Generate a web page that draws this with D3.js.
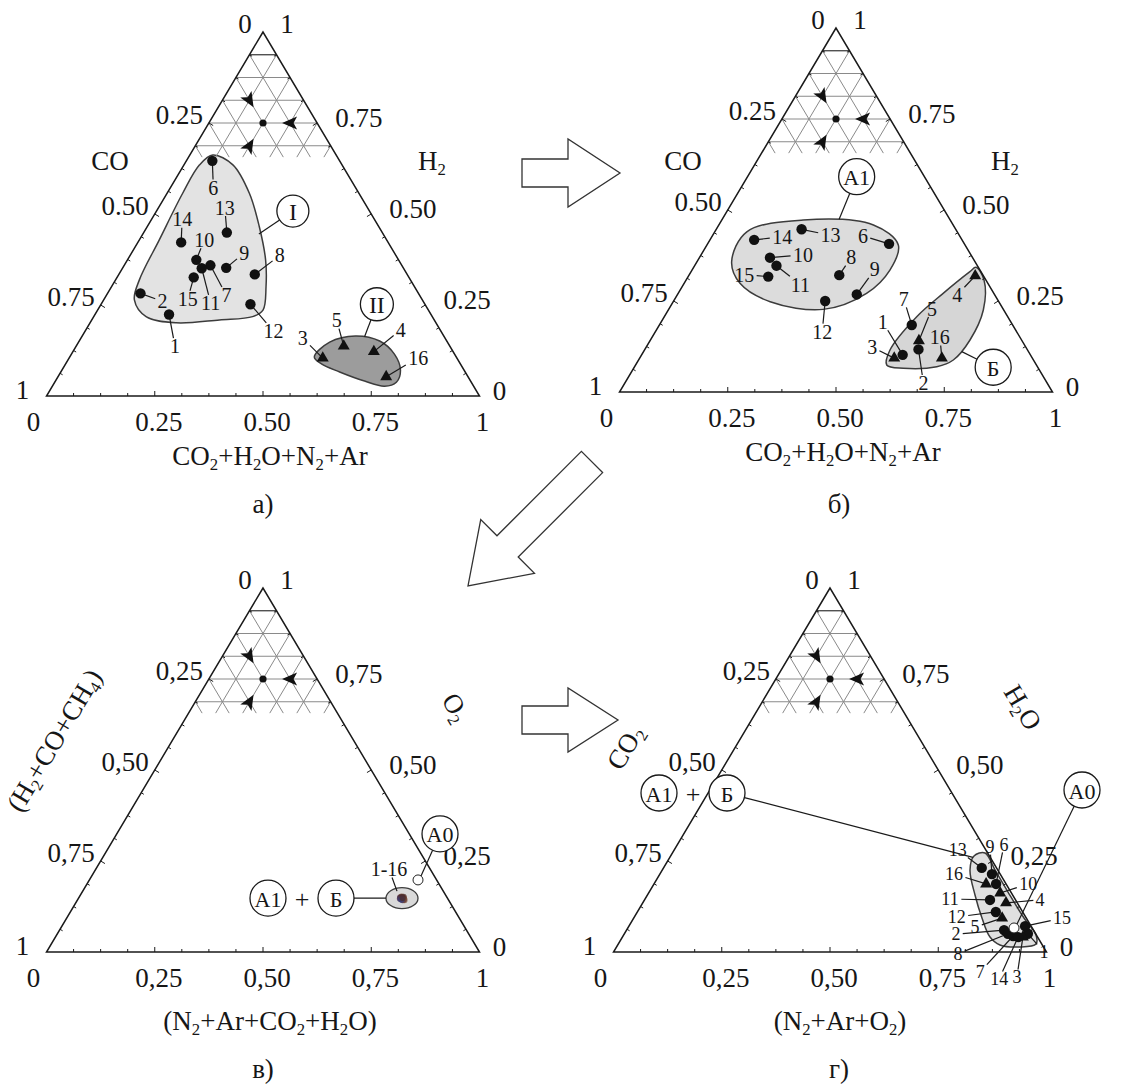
<!DOCTYPE html>
<html>
<head>
<meta charset="utf-8">
<script src="https://cdn.jsdelivr.net/npm/d3@7"></script>
<style>
  body { margin: 0; background: #fff; }
  svg text { font-family: "Liberation Serif", "Times New Roman", serif; fill: #161616; }
</style>
</head>
<body>
<svg id="chart" width="1131" height="1089"></svg>
<script>
// ---------- data: compositions as [left, top, right] fractions ----------
// Panel а: [CO, H2, CO2+H2O+N2+Ar]
const idsA = [1,2,3,4,5,6,7,8,9,10,11,12,13,14,15,16];
const compA = [
  [0.605,0.224,0.171],[0.642,0.282,0.076],[0.310,0.104,0.586],[0.183,0.122,0.695],
  [0.245,0.137,0.618],[0.294,0.646,0.060],[0.442,0.359,0.199],[0.352,0.334,0.314],
  [0.409,0.352,0.239],[0.467,0.374,0.159],[0.466,0.351,0.183],[0.403,0.252,0.345],
  [0.359,0.449,0.192],[0.478,0.422,0.100],[0.497,0.326,0.177],[0.189,0.053,0.758]
];
const markA = ['dot','dot','tri','tri','tri','dot','dot','dot','dot','dot','dot','dot','dot','dot','dot','tri'];

// Panel б: [CO, H2, CO2+H2O+N2+Ar]
const idsB = [1,2,3,4,5,6,7,8,9,10,11,12,13,14,15,16];
const compB = [
  [0.295,0.102,0.603],[0.251,0.117,0.632],[0.319,0.093,0.588],[0.019,0.319,0.662],
  [0.238,0.141,0.621],[0.174,0.407,0.419],[0.233,0.184,0.583],[0.332,0.321,0.347],
  [0.318,0.268,0.414],[0.468,0.369,0.163],[0.464,0.347,0.189],[0.400,0.250,0.350],
  [0.356,0.447,0.197],[0.480,0.418,0.102],[0.498,0.317,0.185],[0.209,0.093,0.698]
];
const markB = ['dot','dot','tri','tri','tri','dot','dot','dot','dot','dot','dot','dot','dot','dot','dot','tri'];

// Panel в: [H2+CO+CH4, O2, N2+Ar+CO2+H2O]
const compV = [
  [0.108,0.150,0.742],[0.102,0.146,0.752],[0.106,0.143,0.751],[0.100,0.151,0.749],
  [0.110,0.147,0.743],[0.104,0.152,0.744],[0.103,0.145,0.752],[0.107,0.149,0.744],
  [0.105,0.144,0.751],[0.101,0.148,0.751],[0.109,0.146,0.745],[0.104,0.150,0.746],
  [0.106,0.147,0.747],[0.102,0.143,0.755],[0.108,0.144,0.748],[0.103,0.149,0.748]
];
const airV = [0.043, 0.198, 0.759];

// Panel г: [CO2, H2O, N2+Ar+O2]
const idsG = [1,2,3,4,5,6,7,8,9,10,11,12,13,14,15,16];
const compG = [
  [0.018,0.050,0.932],[0.068,0.060,0.872],[0.034,0.041,0.925],[0.026,0.135,0.839],
  [0.056,0.093,0.851],[0.023,0.187,0.790],[0.055,0.044,0.901],[0.064,0.050,0.886],
  [0.019,0.214,0.767],[0.026,0.162,0.812],[0.059,0.143,0.798],[0.062,0.110,0.828],
  [0.034,0.231,0.735],[0.045,0.041,0.914],[0.014,0.071,0.915],[0.046,0.187,0.767]
];
const markG = ['dot','dot','tri','tri','tri','dot','dot','dot','dot','tri','dot','dot','dot','dot','dot','tri'];
const airG = [0.042, 0.066, 0.892];

// Region outlines as [top, right] fractions
const regionI  = [[0.662,0.053],[0.635,0.113],[0.557,0.190],[0.465,0.259],[0.374,0.319],[0.300,0.357],
                  [0.236,0.382],[0.218,0.367],[0.209,0.295],[0.201,0.199],[0.218,0.121],[0.264,0.071],
                  [0.319,0.055],[0.429,0.046],[0.557,0.036],[0.635,0.036]];
const regionII = [[0.107,0.565],[0.148,0.580],[0.165,0.631],[0.151,0.694],[0.115,0.746],[0.071,0.782],
                  [0.038,0.789],[0.027,0.767],[0.041,0.714],[0.066,0.644],[0.088,0.591]];
const regionA1 = [[0.358,0.080],[0.440,0.074],[0.4725,0.188],[0.4588,0.357],[0.4038,0.442],[0.335,0.457],
                  [0.271,0.435],[0.227,0.357],[0.248,0.224],[0.2986,0.129]];
const regionBe = [[0.0742,0.580],[0.1154,0.567],[0.2069,0.583],[0.271,0.612],[0.3305,0.644],[0.3426,0.652],
                  [0.3077,0.688],[0.2253,0.7276],[0.1429,0.738],[0.0879,0.727],[0.0695,0.698],[0.0651,0.623]];
const regionG  = [[0.272,0.722],[0.2253,0.7685],[0.1648,0.8287],[0.0934,0.9013],[0.0467,0.9524],[0.022,0.9648],
                  [0.0137,0.9319],[0.0192,0.8830],[0.0412,0.8489],[0.0934,0.8043],[0.1566,0.7566],
                  [0.2253,0.7107],[0.2637,0.7007]];

// Tick labels
const ticksDot   = ['0','0.25','0.50','0.75','1'];
const ticksComma = ['0','0,25','0,50','0,75','1'];

// ---------- layout ----------
const SIDE = 433, HEIGHT = 364;
const svg = d3.select('#chart');

function makePanel(apexX, apexY) {
  const x = d3.scaleLinear().domain([0, 1]).range([apexX - SIDE / 2, apexX + SIDE / 2]);
  const y = d3.scaleLinear().domain([0, 1]).range([apexY + HEIGHT, apexY]);
  const proj = ([l, t, r]) => [x(r + t / 2), y(t)];
  const projTR = ([t, r]) => proj([1 - t - r, t, r]);
  return { x, y, proj, projTR, apexX, apexY };
}

// text with "_2" style subscripts
function rich(sel, str) {
  const parts = str.split(/(_[0-9])/).filter(s => s.length);
  let pending = false;
  parts.forEach(p => {
    if (p[0] === '_') {
      sel.append('tspan').attr('font-size', '0.62em').attr('dy', '0.28em').text(p.slice(1));
      pending = true;
    } else {
      const t = sel.append('tspan').text(p);
      if (pending) { t.attr('dy', '-0.174em'); pending = false; }
    }
  });
  return sel;
}

function drawFrame(P, g, labels) {
  const A = P.proj([0, 1, 0]), L = P.proj([1, 0, 0]), R = P.proj([0, 0, 1]);

  // hatched reading-guide grid at the apex, step 1/16
  const st = 1 / 16, lim = 5.5 / 16;
  const grid = g.append('g').attr('fill', 'none');
  for (let k = 1; k <= 5; k++) {
    const a = P.proj([k * st, 1 - k * st, 0]), b = P.proj([0, 1 - k * st, k * st]);
    grid.append('line').attr('x1', a[0]).attr('y1', a[1]).attr('x2', b[0]).attr('y2', b[1])
      .attr('stroke', k === 1 ? '#333' : '#8a8a8a').attr('stroke-width', k === 1 ? 1.2 : 1);
  }
  for (let j = 1; j <= 5; j++) {
    let a = P.proj([0, 1 - j * st, j * st]), b = P.proj([lim - j * st, 1 - lim, j * st]);
    grid.append('line').attr('x1', a[0]).attr('y1', a[1]).attr('x2', b[0]).attr('y2', b[1])
      .attr('stroke', '#8a8a8a').attr('stroke-width', 1);
    a = P.proj([j * st, 1 - j * st, 0]); b = P.proj([j * st, 1 - lim, lim - j * st]);
    grid.append('line').attr('x1', a[0]).attr('y1', a[1]).attr('x2', b[0]).attr('y2', b[1])
      .attr('stroke', '#8a8a8a').attr('stroke-width', 1);
  }
  // reading direction marks
  const c = P.proj([0.125, 0.75, 0.125]);
  g.append('circle').attr('cx', c[0]).attr('cy', c[1]).attr('r', 3.6).attr('fill', '#111');
  [[0.0625, 0.75, 0.1875], [0.125, 0.8125, 0.0625], [0.1875, 0.6875, 0.125]].forEach(q => {
    const p = P.proj(q);
    const ang = Math.atan2(c[1] - p[1], c[0] - p[0]) * 180 / Math.PI;
    g.append('path').attr('d', 'M8,0 L-7,-6.5 L-3.5,0 L-7,6.5 Z')
      .attr('transform', `translate(${p[0]},${p[1]}) rotate(${ang})`).attr('fill', '#111');
  });

  // triangle
  g.append('path').attr('d', `M${A}L${L}L${R}Z`).attr('fill', 'none')
    .attr('stroke', '#1a1a1a').attr('stroke-width', 1.5).attr('stroke-linejoin', 'miter');

  // ticks every 1/16, inward
  const cen = P.proj([1 / 3, 1 / 3, 1 / 3]);
  const edges = [[A, L], [L, R], [R, A]];
  edges.forEach(([p, q]) => {
    let nx = -(q[1] - p[1]), ny = q[0] - p[0];
    const n = Math.hypot(nx, ny); nx /= n; ny /= n;
    const mx = (p[0] + q[0]) / 2, my = (p[1] + q[1]) / 2;
    if ((cen[0] - mx) * nx + (cen[1] - my) * ny < 0) { nx = -nx; ny = -ny; }
    for (let k = 1; k < 16; k++) {
      const t = k / 16, len = k % 4 === 0 ? 5 : 3;
      const x0 = p[0] + (q[0] - p[0]) * t, y0 = p[1] + (q[1] - p[1]) * t;
      g.append('line').attr('x1', x0).attr('y1', y0).attr('x2', x0 + nx * len).attr('y2', y0 + ny * len)
        .attr('stroke', '#1a1a1a').attr('stroke-width', 1);
    }
  });

  // tick labels
  const tl = g.append('g').attr('font-size', 27);
  tl.append('text').attr('x', A[0] - 18).attr('y', A[1] + 1).attr('text-anchor', 'middle').text(labels[0]);
  tl.append('text').attr('x', A[0] + 24).attr('y', A[1] + 1).attr('text-anchor', 'middle').text(labels[4]);
  [1, 2, 3].forEach(i => {
    const pL = P.proj([i / 4, 1 - i / 4, 0]);
    tl.append('text').attr('x', pL[0] - 6).attr('y', pL[1] + 1).attr('text-anchor', 'end').text(labels[i]);
    const pR = P.proj([0, 1 - i / 4, i / 4]);
    tl.append('text').attr('x', pR[0] + 18).attr('y', pR[1] + 4).attr('text-anchor', 'start').text(labels[4 - i]);
    const pB = P.proj([1 - i / 4, 0, i / 4]);
    tl.append('text').attr('x', pB[0] + 4).attr('y', pB[1] + 35).attr('text-anchor', 'middle').text(labels[i]);
  });
  tl.append('text').attr('x', L[0] - 24).attr('y', L[1] + 3).attr('text-anchor', 'middle').text(labels[4]);
  tl.append('text').attr('x', R[0] + 20).attr('y', R[1] + 4).attr('text-anchor', 'middle').text(labels[0]);
  tl.append('text').attr('x', L[0] - 13).attr('y', L[1] + 35).attr('text-anchor', 'middle').text(labels[0]);
  tl.append('text').attr('x', R[0] + 3).attr('y', R[1] + 35).attr('text-anchor', 'middle').text(labels[4]);
}

function drawRegion(g, P, pts, fill) {
  const line = d3.line().curve(d3.curveCatmullRomClosed.alpha(0.5));
  g.append('path').attr('d', line(pts.map(P.projTR)))
    .attr('fill', fill).attr('stroke', '#3c3c3c').attr('stroke-width', 1.5);
}

function drawMark(g, p, kind) {
  if (kind === 'tri') {
    g.append('path').attr('d', d3.symbol(d3.symbolTriangle, 62)())
      .attr('transform', `translate(${p[0]},${p[1]})`).attr('fill', '#111');
  } else {
    g.append('circle').attr('cx', p[0]).attr('cy', p[1]).attr('r', 5.2).attr('fill', '#111');
  }
}

function leader(g, p, off, text, fs) {
  const lx = p[0] + off[0], ly = p[1] + off[1];
  const w = text.length * fs * 0.26 + 2, h = fs * 0.42;
  const dx = off[0], dy = off[1];
  const tb = Math.min(Math.abs(dx) > 0.01 ? w / Math.abs(dx) : Infinity, Math.abs(dy) > 0.01 ? h / Math.abs(dy) : Infinity);
  const tEnd = Math.max(0, 1 - tb);
  g.append('line').attr('x1', p[0]).attr('y1', p[1])
    .attr('x2', p[0] + dx * tEnd).attr('y2', p[1] + dy * tEnd)
    .attr('stroke', '#1a1a1a').attr('stroke-width', 1.2);
  g.append('text').attr('x', lx).attr('y', ly).attr('font-size', fs)
    .attr('text-anchor', 'middle').attr('dominant-baseline', 'central').text(text);
}

function callout(g, c, r, text, anchor, fs) {
  if (anchor) {
    const dx = anchor[0] - c[0], dy = anchor[1] - c[1], d = Math.hypot(dx, dy);
    g.append('line').attr('x1', c[0] + dx / d * r).attr('y1', c[1] + dy / d * r)
      .attr('x2', anchor[0]).attr('y2', anchor[1]).attr('stroke', '#1a1a1a').attr('stroke-width', 1.2);
  }
  g.append('circle').attr('cx', c[0]).attr('cy', c[1]).attr('r', r)
    .attr('fill', '#fff').attr('stroke', '#1a1a1a').attr('stroke-width', 1.3);
  g.append('text').attr('x', c[0]).attr('y', c[1] + 1).attr('font-size', fs)
    .attr('text-anchor', 'middle').attr('dominant-baseline', 'central').text(text);
}

function blockArrow(g, tail, tip, shaftHalf, headHalf, headLen) {
  const dx = tip[0] - tail[0], dy = tip[1] - tail[1], d = Math.hypot(dx, dy);
  const ux = dx / d, uy = dy / d, nx = -uy, ny = ux;
  const hb = [tip[0] - ux * headLen, tip[1] - uy * headLen];
  const pts = [
    [tail[0] + nx * shaftHalf, tail[1] + ny * shaftHalf],
    [hb[0] + nx * shaftHalf, hb[1] + ny * shaftHalf],
    [hb[0] + nx * headHalf, hb[1] + ny * headHalf],
    tip,
    [hb[0] - nx * headHalf, hb[1] - ny * headHalf],
    [hb[0] - nx * shaftHalf, hb[1] - ny * shaftHalf],
    [tail[0] - nx * shaftHalf, tail[1] - ny * shaftHalf]
  ];
  g.append('path').attr('d', 'M' + pts.join('L') + 'Z').attr('fill', '#fff')
    .attr('stroke', '#333').attr('stroke-width', 1.3).attr('stroke-linejoin', 'miter');
}

// ---------- panel а ----------
const PA = makePanel(263, 32);
const gA = svg.append('g');
drawRegion(gA, PA, regionI, '#e3e3e3');
drawRegion(gA, PA, regionII, '#9c9c9c');
drawFrame(PA, gA, ticksDot);
const offA = {1:[6,32],2:[22,8],3:[-20,-20],4:[27,-22],5:[-7,-26],6:[1,27],7:[16,30],8:[25,-19],
              9:[18,-15],10:[8,-20],11:[9,35],12:[23,27],13:[-2,-25],14:[1,-23],15:[-6,22],16:[32,-19]};
idsA.forEach((id, i) => leader(gA, PA.proj(compA[i]), offA[id], String(id), 20));
idsA.forEach((id, i) => drawMark(gA, PA.proj(compA[i]), markA[i]));
callout(gA, PA.proj([0.177, 0.508, 0.315]), 16, 'I', PA.proj([0.287, 0.445, 0.268]), 24);
callout(gA, PA.proj([0.111, 0.252, 0.637]), 16.5, 'II', PA.proj([0.184, 0.163, 0.653]), 24);
rich(gA.append('text').attr('x', 110).attr('y', 170).attr('font-size', 27).attr('text-anchor', 'middle'), 'CO');
rich(gA.append('text').attr('x', 432).attr('y', 170).attr('font-size', 27).attr('text-anchor', 'middle'), 'H_2');
rich(gA.append('text').attr('x', 270).attr('y', 465).attr('font-size', 27).attr('text-anchor', 'middle'), 'CO_2+H_2O+N_2+Ar');
gA.append('text').attr('x', 263).attr('y', 513).attr('font-size', 27).attr('text-anchor', 'middle').text('а)');

// ---------- panel б ----------
const PB = makePanel(836, 28);
const gB = svg.append('g');
drawRegion(gB, PB, regionA1, '#dcdcdc');
drawRegion(gB, PB, regionBe, '#d6d6d6');
drawFrame(PB, gB, ticksDot);
const offB = {1:[-20,-33],2:[5,34],3:[-22,-11],4:[-18,19],5:[13,-32],6:[-26,-8],7:[-8,-26],8:[12,-18],
              9:[18,-25],10:[33,-3],11:[24,19],12:[-3,31],13:[29,6],14:[28,-3],15:[-24,-2],16:[-2,-21]};
idsB.forEach((id, i) => leader(gB, PB.proj(compB[i]), offB[id], String(id), 20));
idsB.forEach((id, i) => drawMark(gB, PB.proj(compB[i]), markB[i]));
callout(gB, PB.proj([0.1565, 0.5915, 0.252]), 18, 'А1', PB.proj([0.2555, 0.4745, 0.270]), 22);
callout(gB, PB.proj([0.103, 0.068, 0.829]), 18, 'Б', PB.proj([0.154, 0.111, 0.735]), 22);
rich(gB.append('text').attr('x', 683).attr('y', 170).attr('font-size', 27).attr('text-anchor', 'middle'), 'CO');
rich(gB.append('text').attr('x', 1005).attr('y', 170).attr('font-size', 27).attr('text-anchor', 'middle'), 'H_2');
rich(gB.append('text').attr('x', 843).attr('y', 461).attr('font-size', 27).attr('text-anchor', 'middle'), 'CO_2+H_2O+N_2+Ar');
gB.append('text').attr('x', 839).attr('y', 513).attr('font-size', 27).attr('text-anchor', 'middle').text('б)');

// ---------- panel в ----------
const PV = makePanel(263, 588);
const gV = svg.append('g');
drawFrame(PV, gV, ticksComma);
const cV = PV.proj([0.105, 0.148, 0.747]);
gV.append('ellipse').attr('cx', cV[0]).attr('cy', cV[1]).attr('rx', 16).attr('ry', 10.5)
  .attr('fill', '#d9d9d9').attr('stroke', '#3c3c3c').attr('stroke-width', 1.3);
const tintsV = ['#5a3550', '#7a4a36', '#3a3f78', '#4a2c2c'];
compV.forEach((q, i) => { const p = PV.proj(q); gV.append('circle').attr('cx', p[0]).attr('cy', p[1]).attr('r', 3.2).attr('fill', tintsV[i % 4]).attr('opacity', 0.75); });
const pAirV = PV.proj(airV);
gV.append('circle').attr('cx', pAirV[0]).attr('cy', pAirV[1]).attr('r', 5).attr('fill', '#fff').attr('stroke', '#222');
leader(gV, [cV[0] - 5, cV[1] - 7], [-8, -22], '1-16', 20);
callout(gV, [pAirV[0] + 22, pAirV[1] - 46], 18, 'А0', [pAirV[0] + 3, pAirV[1] - 4], 22);
callout(gV, [cV[0] - 134, cV[1]], 18, 'А1', null, 22);
gV.append('text').attr('x', cV[0] - 100).attr('y', cV[1] + 1).attr('font-size', 26).attr('text-anchor', 'middle').attr('dominant-baseline', 'central').text('+');
callout(gV, [cV[0] - 66, cV[1]], 18, 'Б', [cV[0] - 16, cV[1]], 22);
rich(gV.append('text').attr('transform', 'translate(62,745) rotate(-59.3)').attr('font-size', 27).attr('text-anchor', 'middle'), '(H_2+CO+CH_4)');
rich(gV.append('text').attr('transform', 'translate(448,712) rotate(59.3)').attr('font-size', 27).attr('text-anchor', 'middle'), 'O_2');
rich(gV.append('text').attr('x', 270).attr('y', 1030).attr('font-size', 27).attr('text-anchor', 'middle'), '(N_2+Ar+CO_2+H_2O)');
gV.append('text').attr('x', 263).attr('y', 1078).attr('font-size', 27).attr('text-anchor', 'middle').text('в)');

// ---------- panel г ----------
const PG = makePanel(830, 588);
const gG = svg.append('g');
drawRegion(gG, PG, regionG, '#e0e0e0');
drawFrame(PG, gG, ticksComma);
const offG = {1:[16,18],2:[-48,4],3:[-6,40],4:[34,-3],5:[-27,9],6:[8,-39],7:[-33,36],8:[-50,20],
              9:[-2,-27],10:[28,-9],11:[-40,-1],12:[-39,5],13:[-24,-18],14:[-19,42],15:[37,-8],16:[-32,-10]};
idsG.forEach((id, i) => leader(gG, PG.proj(compG[i]), offG[id], String(id), 18));
idsG.forEach((id, i) => drawMark(gG, PG.proj(compG[i]), markG[i]));
const pAirG = PG.proj(airG);
gG.append('circle').attr('cx', pAirG[0]).attr('cy', pAirG[1]).attr('r', 5).attr('fill', '#fff').attr('stroke', '#222');
callout(gG, [1082, 790], 18, 'А0', [pAirG[0] + 3, pAirG[1] - 4], 22);
callout(gG, [659, 793], 18, 'А1', null, 22);
gG.append('text').attr('x', 693).attr('y', 794).attr('font-size', 26).attr('text-anchor', 'middle').attr('dominant-baseline', 'central').text('+');
callout(gG, [727, 793], 18, 'Б', PG.projTR([0.26, 0.70]), 22);
rich(gG.append('text').attr('transform', 'translate(633,752) rotate(-59.3)').attr('font-size', 27).attr('text-anchor', 'middle'), 'CO_2');
rich(gG.append('text').attr('transform', 'translate(1015,712) rotate(59.3)').attr('font-size', 27).attr('text-anchor', 'middle'), 'H_2O');
rich(gG.append('text').attr('x', 840).attr('y', 1030).attr('font-size', 27).attr('text-anchor', 'middle'), '(N_2+Ar+O_2)');
gG.append('text').attr('x', 839).attr('y', 1078).attr('font-size', 27).attr('text-anchor', 'middle').text('г)');

// ---------- transition arrows ----------
const gArr = svg.append('g');
blockArrow(gArr, [522, 173], [620, 173], 14, 34, 52);
blockArrow(gArr, [592, 462], [468, 586], 15, 38, 56);
blockArrow(gArr, [522, 720], [618, 720], 14, 32, 50);
</script>
</body>
</html>
